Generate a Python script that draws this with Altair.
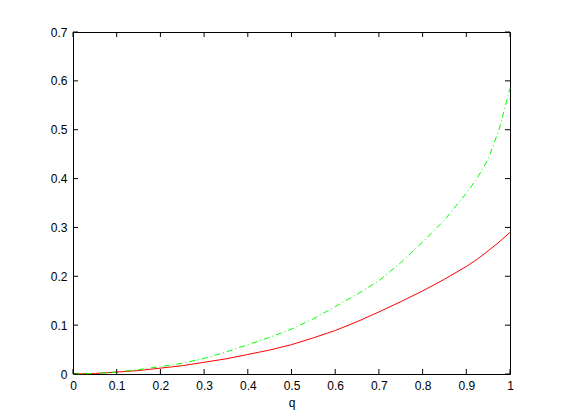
import altair as alt
import pandas as pd

q = [0.0, 0.05, 0.1, 0.15, 0.2, 0.25, 0.3, 0.35, 0.4, 0.45, 0.5, 0.55, 0.6, 0.65,
     0.7, 0.75, 0.8, 0.85, 0.9, 0.925, 0.95, 0.975, 1.0]
red = [0.0, 0.001, 0.004, 0.007, 0.012, 0.017, 0.024, 0.031, 0.040, 0.049, 0.060,
       0.074, 0.089, 0.107, 0.127, 0.148, 0.170, 0.194, 0.220, 0.235, 0.252, 0.270, 0.290]
green = [0.0, 0.001, 0.004, 0.009, 0.015, 0.022, 0.032, 0.045, 0.060, 0.075, 0.092,
         0.113, 0.138, 0.163, 0.191, 0.228, 0.270, 0.315, 0.370, 0.401, 0.440, 0.500, 0.585]
x_ticks = [0, 0.1, 0.2, 0.3, 0.4, 0.5, 0.6, 0.7, 0.8, 0.9, 1.0]
y_ticks = [0, 0.1, 0.2, 0.3, 0.4, 0.5, 0.6, 0.7]

W, H = 437, 342

df_red = pd.DataFrame({"q": q, "v": red})
df_green = pd.DataFrame({"q": q, "v": green})
df_xt = pd.DataFrame({"t": x_ticks})
df_yt = pd.DataFrame({"t": y_ticks})

xs = alt.Scale(domain=[0, 1], nice=False, zero=False)
ys = alt.Scale(domain=[0, 0.7], nice=False, zero=False)

xaxis = alt.Axis(values=x_ticks, format="~g", ticks=False, grid=False, labelPadding=6,
                 title="q", titlePadding=6, domain=False, labelFlush=False)
yaxis = alt.Axis(values=y_ticks, format="~g", ticks=False, grid=False, labelPadding=6,
                 title=None, domain=False, labelFlush=False)

red_line = alt.Chart(df_red).mark_line(color="#ff0000", strokeWidth=1).encode(
    x=alt.X("q:Q", scale=xs, axis=xaxis),
    y=alt.Y("v:Q", scale=ys, axis=yaxis),
)
green_line = alt.Chart(df_green).mark_line(color="#00ff00", strokeWidth=1,
                                           strokeDash=[6, 3, 1, 3]).encode(
    x=alt.X("q:Q", scale=xs),
    y=alt.Y("v:Q", scale=ys),
)

tb = alt.Chart(df_xt).mark_rule(color="black", strokeWidth=1).encode(
    x=alt.X("t:Q", scale=xs), y=alt.value(H), y2=alt.value(H - 5))
tt = alt.Chart(df_xt).mark_rule(color="black", strokeWidth=1).encode(
    x=alt.X("t:Q", scale=xs), y=alt.value(0), y2=alt.value(5))
tl = alt.Chart(df_yt).mark_rule(color="black", strokeWidth=1).encode(
    y=alt.Y("t:Q", scale=ys), x=alt.value(0), x2=alt.value(5))
tr = alt.Chart(df_yt).mark_rule(color="black", strokeWidth=1).encode(
    y=alt.Y("t:Q", scale=ys), x=alt.value(W), x2=alt.value(W - 5))

chart = alt.layer(red_line, green_line, tb, tt, tl, tr).properties(
    width=W, height=H,
    autosize=alt.AutoSizeParams(type="none"),
    padding={"left": 65, "top": 24, "right": 30, "bottom": 36},
    background="white",
).configure_view(stroke="black", strokeWidth=1).configure_axis(
    labelFont="Liberation Sans", labelFontSize=12, labelColor="black",
    titleFont="Liberation Sans", titleFontSize=12, titleColor="black",
    titleFontWeight="normal",
)

chart.save("out.html", embed_options={"renderer": "svg", "actions": False})
